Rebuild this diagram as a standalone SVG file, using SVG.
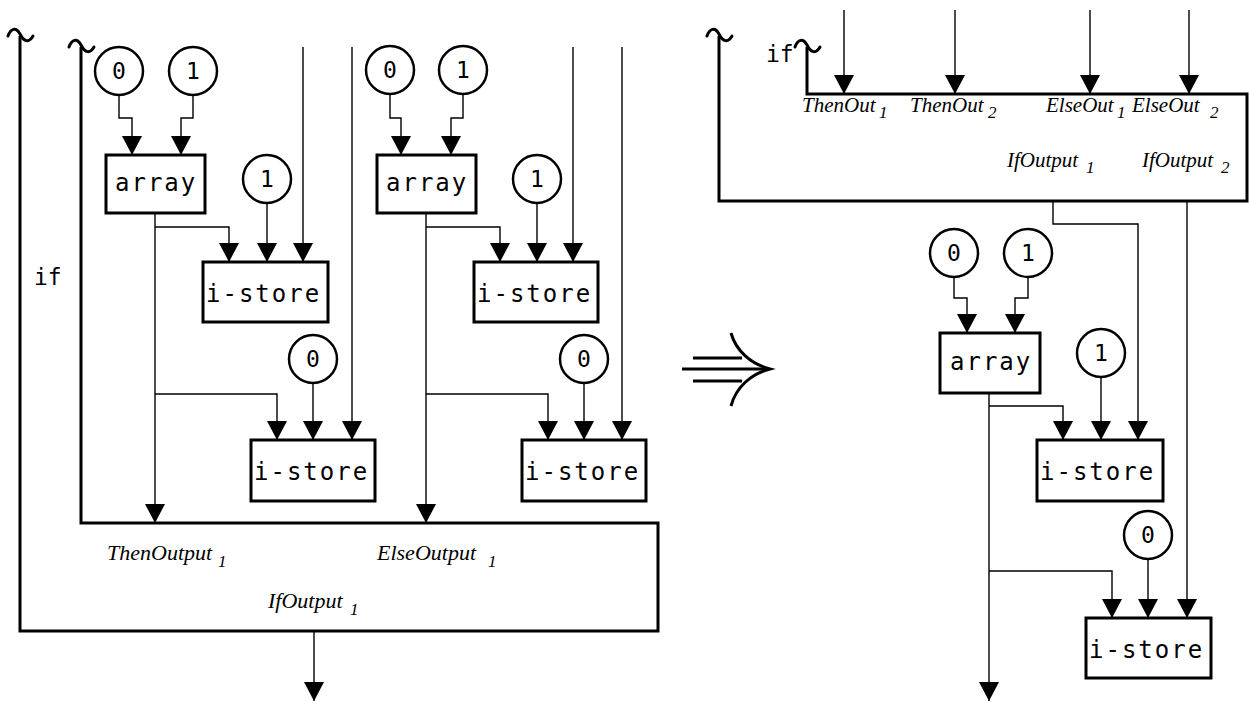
<svg xmlns="http://www.w3.org/2000/svg" width="1249" height="702" viewBox="0 0 1249 702">
<style>
.frame{fill:none;stroke:#000;stroke-width:3;stroke-linejoin:miter}
.box{fill:#fff;stroke:#000;stroke-width:3}
.circ{fill:#fff;stroke:#000;stroke-width:2.5}
.wire{fill:none;stroke:#000;stroke-width:1.4}
.arr{marker-end:url(#ah)}
.tilde{fill:none;stroke:#000;stroke-width:3;stroke-linecap:round}
.mono{font-family:"DejaVu Sans Mono","Liberation Mono",monospace;font-size:24px;letter-spacing:2px;fill:#000}
.kw{font-family:"DejaVu Sans Mono","Liberation Mono",monospace;font-size:23px;fill:#000}
.num{font-family:"DejaVu Sans Mono","Liberation Mono",monospace;font-size:23px;fill:#000;text-anchor:middle}
.lbl{font-family:"Liberation Serif",serif;font-style:italic;font-size:22px;fill:#000}
.lblr{font-family:"Liberation Serif",serif;font-style:italic;font-size:21px;fill:#000}
.sub{font-family:"Liberation Serif",serif;font-style:italic;font-size:17px;fill:#000}
</style>
<defs>
<marker id="ah" viewBox="0 0 19 20" markerWidth="19" markerHeight="20" refX="19" refY="10" orient="auto" markerUnits="userSpaceOnUse">
<path d="M0,0 L19,10 L0,20 Z" fill="#000"/>
</marker>
</defs>
<rect width="1249" height="702" fill="#fff"/>

<!-- LEFT DIAGRAM -->
<g id="left-if">
<path class="frame" d="M20,36 V631 H658 V523 H81 V47"/>
<path class="tilde" d="M8,36 C11,28 16,27 20,34 C24,42 29,43 33,36"/>
<path class="tilde" d="M69,47 C72,39 77,38 81,45 C85,53 90,54 94,47"/>
<text class="kw" x="34" y="285">if</text>
<text class="lbl" x="107" y="560">ThenOutput</text><text class="sub" x="218" y="567">1</text>
<text class="lbl" x="377" y="560">ElseOutput</text><text class="sub" x="488" y="567">1</text>
<text class="lbl" x="268" y="608">IfOutput</text><text class="sub" x="350" y="615">1</text>
</g>

<g id="l-c0a"><circle class="circ" cx="119" cy="71" r="24"/><text class="num" x="119" y="79">0</text></g>
<g id="l-c1a"><circle class="circ" cx="193" cy="71" r="24"/><text class="num" x="193" y="79">1</text></g>
<g id="l-array1"><rect class="box" x="106" y="155" width="99" height="58"/><text class="mono" x="115" y="191">array</text></g>
<g id="l-c1b"><circle class="circ" cx="267" cy="179" r="24"/><text class="num" x="267" y="187">1</text></g>
<g id="l-istore1"><rect class="box" x="203" y="262" width="125" height="60"/><text class="mono" x="206" y="302">i-store</text></g>
<g id="l-c0b"><circle class="circ" cx="313" cy="359" r="24"/><text class="num" x="313" y="367">0</text></g>
<g id="l-istore2"><rect class="box" x="251" y="440" width="124" height="61"/><text class="mono" x="254" y="480">i-store</text></g>

<g id="l-c0c"><circle class="circ" cx="390" cy="70" r="24"/><text class="num" x="390" y="78">0</text></g>
<g id="l-c1c"><circle class="circ" cx="463" cy="70" r="24"/><text class="num" x="463" y="78">1</text></g>
<g id="l-array2"><rect class="box" x="377" y="155" width="99" height="58"/><text class="mono" x="386" y="191">array</text></g>
<g id="l-c1d"><circle class="circ" cx="537" cy="179" r="24"/><text class="num" x="537" y="187">1</text></g>
<g id="l-istore3"><rect class="box" x="474" y="262" width="124" height="60"/><text class="mono" x="477" y="302">i-store</text></g>
<g id="l-c0d"><circle class="circ" cx="584" cy="359" r="24"/><text class="num" x="584" y="367">0</text></g>
<g id="l-istore4"><rect class="box" x="522" y="440" width="124" height="61"/><text class="mono" x="525" y="480">i-store</text></g>

<!-- RIGHT DIAGRAM -->
<g id="right-if">
<path class="frame" d="M719,36 V201 H1247 V94 H807 V47"/>
<path class="tilde" d="M707,36 C710,28 715,27 719,34 C723,42 728,43 732,36"/>
<path class="tilde" d="M795,47 C798,39 803,38 807,45 C811,53 816,54 820,47"/>
<text class="kw" x="766" y="62">if</text>
<text class="lblr" x="802" y="112">ThenOut</text><text class="sub" x="879" y="118">1</text>
<text class="lblr" x="910" y="112">ThenOut</text><text class="sub" x="988" y="118">2</text>
<text class="lblr" x="1046" y="112">ElseOut</text><text class="sub" x="1117" y="118">1</text>
<text class="lblr" x="1132" y="112">ElseOut</text><text class="sub" x="1210" y="118">2</text>
<text class="lblr" x="1007" y="167">IfOutput</text><text class="sub" x="1086" y="173">1</text>
<text class="lblr" x="1142" y="167">IfOutput</text><text class="sub" x="1221" y="173">2</text>
</g>

<g id="r-c0a"><circle class="circ" cx="954" cy="253" r="24"/><text class="num" x="954" y="261">0</text></g>
<g id="r-c1a"><circle class="circ" cx="1028" cy="253" r="24"/><text class="num" x="1028" y="261">1</text></g>
<g id="r-array"><rect class="box" x="940" y="333" width="100" height="60"/><text class="mono" x="950" y="370">array</text></g>
<g id="r-c1b"><circle class="circ" cx="1101" cy="353" r="24"/><text class="num" x="1101" y="361">1</text></g>
<g id="r-istore1"><rect class="box" x="1037" y="440" width="126" height="61"/><text class="mono" x="1040" y="480">i-store</text></g>
<g id="r-c0b"><circle class="circ" cx="1148" cy="535" r="24"/><text class="num" x="1148" y="543">0</text></g>
<g id="r-istore2"><rect class="box" x="1086" y="618" width="125" height="60"/><text class="mono" x="1089" y="658">i-store</text></g>

<!-- transformation symbol -->
<g id="transform">
<path d="M693,358 H742 M682,369 H768 M693,381 H742" fill="none" stroke="#000" stroke-width="3"/>
<path d="M731,333 C736,351 751,364 770,369 C751,374 736,387 731,406" fill="none" stroke="#000" stroke-width="3"/>
</g>

<g id="connectors">
<path class="wire arr" d="M119,95 V118 H132 V155"/>
<path class="wire arr" d="M193,95 V118 H181 V155"/>
<path class="wire arr" d="M155,213 V523"/>
<path class="wire arr" d="M155,227 H229 V262"/>
<path class="wire arr" d="M155,394 H277 V440"/>
<path class="wire arr" d="M267,203 V262"/>
<path class="wire arr" d="M303,47 V262"/>
<path class="wire arr" d="M313,383 V440"/>
<path class="wire arr" d="M352,47 V440"/>
<path class="wire arr" d="M390,94 V118 H401 V155"/>
<path class="wire arr" d="M463,94 V118 H451 V155"/>
<path class="wire arr" d="M426,213 V523"/>
<path class="wire arr" d="M426,227 H500 V262"/>
<path class="wire arr" d="M426,394 H548 V440"/>
<path class="wire arr" d="M537,203 V262"/>
<path class="wire arr" d="M573,47 V262"/>
<path class="wire arr" d="M584,383 V440"/>
<path class="wire arr" d="M622,47 V440"/>
<path class="wire arr" d="M314,631 V701"/>
<path class="wire arr" d="M844,10 V94"/>
<path class="wire arr" d="M955,10 V94"/>
<path class="wire arr" d="M1090,10 V94"/>
<path class="wire arr" d="M1189,10 V94"/>
<path class="wire arr" d="M1053,201 V224 H1138 V440"/>
<path class="wire arr" d="M1187,201 V618"/>
<path class="wire arr" d="M954,277 V298 H967 V333"/>
<path class="wire arr" d="M1028,277 V298 H1015 V333"/>
<path class="wire arr" d="M1101,377 V440"/>
<path class="wire arr" d="M989,393 V701"/>
<path class="wire arr" d="M989,406 H1063 V440"/>
<path class="wire arr" d="M989,571 H1112 V618"/>
<path class="wire arr" d="M1148,559 V618"/>
</g>
</svg>
